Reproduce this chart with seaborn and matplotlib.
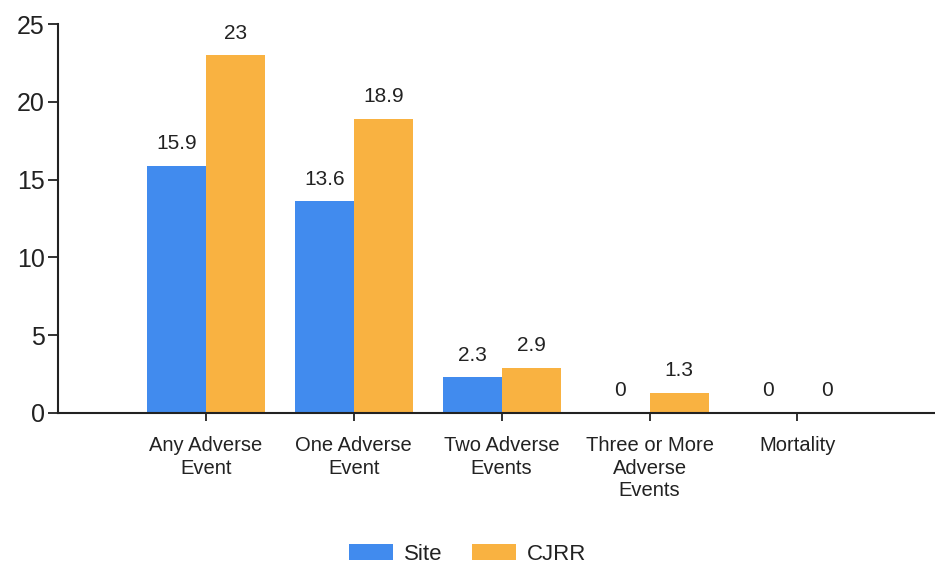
import matplotlib
matplotlib.use("Agg")
import matplotlib.pyplot as plt
import seaborn as sns
import pandas as pd

categories = ["Any Adverse\nEvent", "One Adverse\nEvent", "Two Adverse\nEvents",
              "Three or More\nAdverse\nEvents", "Mortality"]
site = [15.9, 13.6, 2.3, 0, 0]
cjrr = [23, 18.9, 2.9, 1.3, 0]
series = ["Site", "CJRR"]
colors = ["#418BEE", "#F9B241"]
yticks = [0, 5, 10, 15, 20, 25]

df = pd.DataFrame({
    "category": categories * 2,
    "value": site + cjrr,
    "series": [series[0]] * len(categories) + [series[1]] * len(categories),
})

sns.set_theme(style="white")
plt.rcParams["font.family"] = ["Liberation Sans", "DejaVu Sans"]

fig = plt.figure(figsize=(9.35, 5.64), dpi=100)
ax = fig.add_axes([58 / 935, 1 - 413 / 564, 1 - 58 / 935, (413 - 24) / 564])

sns.barplot(data=df, x="category", y="value", hue="series", order=categories,
            hue_order=series, palette=colors, width=0.8, saturation=1,
            edgecolor="none", linewidth=0, ax=ax, legend=True)

for cont in ax.containers:
    ax.bar_label(cont, labels=[f"{v:g}" for v in cont.datavalues], padding=9,
                 fontsize=15, color="#222222")

ax.set_xlim(-1, 4.93)
ax.set_ylim(0, 25)
ax.set_yticks(yticks)
ax.set_xlabel("")
ax.set_ylabel("")
for s in ["top", "right"]:
    ax.spines[s].set_visible(False)
for s in ["left", "bottom"]:
    ax.spines[s].set_color("#222222")
    ax.spines[s].set_linewidth(1.5)
ax.tick_params(axis="y", which="major", direction="out", length=7.5, width=1.3,
               color="#222222", labelsize=18, labelcolor="#222222", left=True, pad=2)
ax.tick_params(axis="x", which="major", direction="out", length=5.5, width=1.3,
               color="#222222", labelsize=14.5, labelcolor="#222222", bottom=True, pad=11)
for lbl in ax.get_xticklabels():
    lbl.set_linespacing(1.25)

handles, labels = ax.get_legend_handles_labels()
ax.get_legend().remove()
fig.legend(handles, labels, loc="lower center", bbox_to_anchor=(0.5, -0.037),
           ncol=2, frameon=False, fontsize=16, handlelength=2.0, handleheight=0.68,
           columnspacing=1.3, handletextpad=0.5, labelcolor="#222222")

fig.savefig("out.png", dpi=100)
